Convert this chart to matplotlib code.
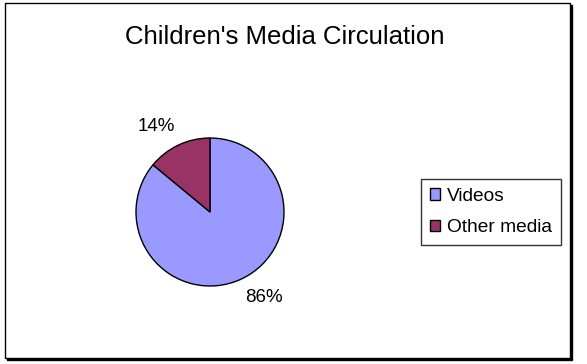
import matplotlib
matplotlib.use("Agg")
from matplotlib import pyplot as plt
from matplotlib.patches import Rectangle
import numpy as np

plt.rcParams['font.family'] = ['Liberation Sans', 'DejaVu Sans']

# chart data
labels = ["Videos", "Other media"]
shares = [86, 14]
colors = ["#9999FF", "#993366"]
title = "Children's Media Circulation"

W, H = 587, 364
fig = plt.figure(figsize=(W / 100, H / 100), dpi=100)

# outer chart border with a small shadow on right/bottom
fig.patches.append(Rectangle((7 / W, 1 - 360 / H), 565 / W, 355 / H, transform=fig.transFigure,
                             facecolor="black", edgecolor="black", lw=1, zorder=-2))
fig.patches.append(Rectangle((5 / W, 1 - 358 / H), 565 / W, 355 / H, transform=fig.transFigure,
                             facecolor="white", edgecolor="black", lw=1, zorder=-1))

fig.text(285 / W, 1 - 37 / H, title, ha="center", va="center", fontsize=18.5)

# pie centred at (210, 212) px with radius ~74 px
cx, cy, r = 210, 212, 74
ax = fig.add_axes([(cx - r) / W, 1 - (cy + r) / H, 2 * r / W, 2 * r / H])
ax.set_zorder(2)
wedges, texts, autotexts = ax.pie(shares, colors=colors, startangle=90, counterclock=False,
                                  autopct="%d%%", pctdistance=1.36,
                                  wedgeprops=dict(edgecolor="black", linewidth=1),
                                  textprops=dict(fontsize=13.5))
# labels sit a little counter-clockwise of the slice middles, like excel puts them
for w, t in zip(wedges, autotexts):
    ang = np.deg2rad((w.theta1 + w.theta2) / 2 + 7)
    t.set_position((1.36 * np.cos(ang), 1.36 * np.sin(ang)))
    t.set_clip_on(False)
ax.set_xlim(-1, 1)
ax.set_ylim(-1, 1)
ax.axis("off")

leg = fig.legend(wedges, labels, loc="center left", bbox_to_anchor=(421 / W, 1 - 212 / H),
                 frameon=True, fancybox=False, edgecolor="black", fontsize=13.8,
                 handlelength=0.55, handleheight=0.55, handletextpad=0.35,
                 labelspacing=0.75, borderpad=0.45, borderaxespad=0)
leg.get_frame().set_linewidth(1)
leg.set_zorder(3)

fig.savefig("out.png", dpi=100)
